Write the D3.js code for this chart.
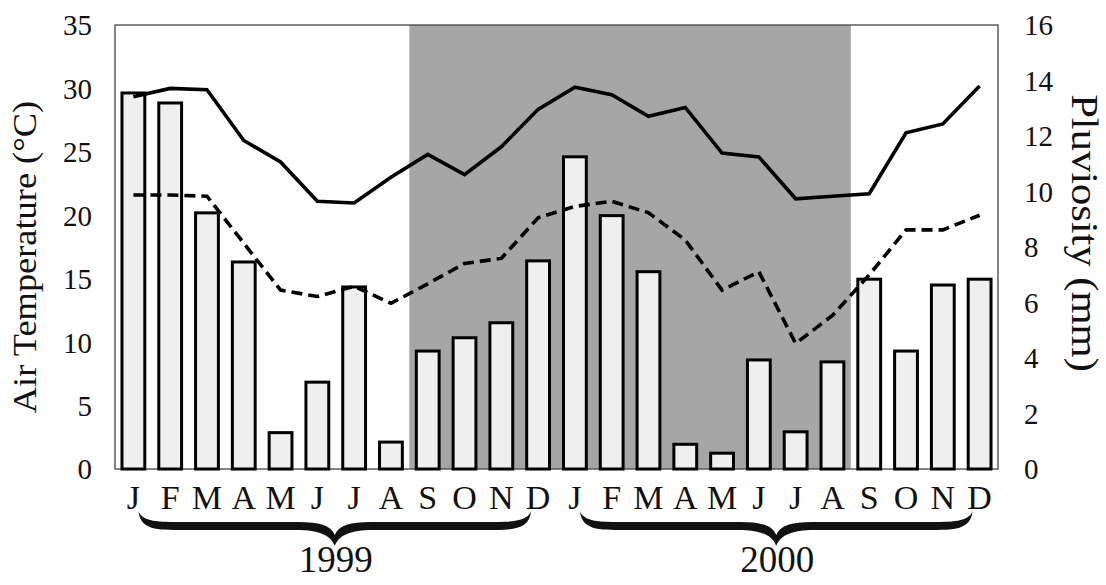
<!DOCTYPE html>
<html>
<head>
<meta charset="utf-8">
<script src="https://cdn.jsdelivr.net/npm/d3@7"></script>
<style>
  html, body { margin: 0; padding: 0; background: #fff; }
  svg { display: block; }
  svg text { font-family: "Liberation Serif", "Times New Roman", Times, "DejaVu Serif", serif !important; fill: #111; }
</style>
</head>
<body>
<div id="chart"></div>
<script>
// ---- data ----
const months = ["J","F","M","A","M","J","J","A","S","O","N","D",
                "J","F","M","A","M","J","J","A","S","O","N","D"];
const years = ["1999", "2000"];
// Pluviosity (mm) – bars, right axis
const rain = [13.55, 13.19, 9.23, 7.46, 1.31, 3.13, 6.56, 0.97, 4.25, 4.73, 5.27, 7.5,
              11.25, 9.13, 7.11, 0.89, 0.57, 3.93, 1.34, 3.86, 6.84, 4.25, 6.63, 6.84];
// Air temperature (°C) – solid line (max), left axis
const tempMax = [29.35, 30.0, 29.9, 25.9, 24.2, 21.1, 20.97, 23.0, 24.8, 23.2, 25.4, 28.35,
                 30.1, 29.5, 27.8, 28.5, 24.9, 24.6, 21.3, 21.5, 21.7, 26.5, 27.2, 30.2];
// Air temperature (°C) – dashed line (min), left axis
const tempMin = [21.6, 21.6, 21.5, 17.8, 14.1, 13.6, 14.4, 13.06, 14.6, 16.2, 16.6, 19.8,
                 20.7, 21.1, 20.2, 18.05, 14.1, 15.55, 9.9, 12.1, 15.3, 18.85, 18.85, 20.0];
const leftTicks = [0, 5, 10, 15, 20, 25, 30, 35];
const rightTicks = [0, 2, 4, 6, 8, 10, 12, 14, 16];
const shadeFrom = 8, shadeTo = 19; // Sep 1999 .. Aug 2000

// ---- layout ----
const W = 1106, H = 585;
const L = 115, R = 998, T = 25, B = 469;
const FONT = '"Liberation Serif", "Times New Roman", Times, serif';

const svg = d3.select("#chart").append("svg").attr("width", W).attr("height", H)
  .style("font-family", FONT);

const idx = d3.range(months.length);
const x = d3.scaleBand().domain(idx).range([L, R]).paddingInner(0.38).paddingOuter(0.19);
const cx = i => x(i) + x.bandwidth() / 2;
const yL = d3.scaleLinear().domain([0, 35]).range([B, T]);
const yR = d3.scaleLinear().domain([0, 16]).range([B, T]);
const step = x.step();

// shading
svg.append("rect")
  .attr("x", x(shadeFrom) - step * 0.19)
  .attr("y", T)
  .attr("width", (x(shadeTo) + x.bandwidth() + step * 0.19) - (x(shadeFrom) - step * 0.19))
  .attr("height", B - T)
  .attr("fill", "#a6a6a6");

// frame
svg.append("rect")
  .attr("x", L).attr("y", T).attr("width", R - L).attr("height", B - T)
  .attr("fill", "none").attr("stroke", "#444").attr("stroke-width", 1.3);

// bars
svg.append("g").selectAll("rect").data(rain).join("rect")
  .attr("x", (d, i) => x(i))
  .attr("y", d => yR(d))
  .attr("width", x.bandwidth())
  .attr("height", d => B - yR(d))
  .attr("fill", "#efefef")
  .attr("stroke", "#000")
  .attr("stroke-width", 3);

// lines
const line = d3.line().x((d, i) => cx(i)).y(d => yL(d));
svg.append("path").datum(tempMax).attr("d", line)
  .attr("fill", "none").attr("stroke", "#000").attr("stroke-width", 3.6)
  .attr("stroke-linejoin", "miter");
svg.append("path").datum(tempMin).attr("d", line)
  .attr("fill", "none").attr("stroke", "#000").attr("stroke-width", 3.6)
  .attr("stroke-dasharray", "11,6");

// left axis
const axL = d3.axisLeft(yL).tickValues(leftTicks).tickSize(0).tickPadding(0);
const gL = svg.append("g").attr("transform", `translate(${92},0)`).call(axL)
  .attr("font-family", FONT);
gL.select(".domain").remove();
gL.selectAll("text").attr("font-size", 29).attr("fill", "#111").attr("dy", "0.34em");

// right axis
const axR = d3.axisRight(yR).tickValues(rightTicks).tickSize(0).tickPadding(0);
const gR = svg.append("g").attr("transform", `translate(${1024},0)`).call(axR)
  .attr("font-family", FONT);
gR.select(".domain").remove();
gR.selectAll("text").attr("font-size", 29).attr("fill", "#111").attr("dy", "0.34em");

// month labels
svg.append("g").selectAll("text").data(months).join("text")
  .attr("x", (d, i) => cx(i))
  .attr("y", 509)
  .attr("text-anchor", "middle")
  .attr("font-size", 34)
  .text(d => d);

// braces + years
function bracePath(x0, x1, yTop, yMid, yTip, h) {
  const c = (x0 + x1) / 2;
  return `M${x0},${yTop}` +
    `C${x0+2},${yMid+h} ${x0+18},${yMid+h} ${x0+45},${yMid+h}` +
    `L${c-38},${yMid+h}` +
    `C${c-16},${yMid+h} ${c-4},${yMid+h+5} ${c},${yTip}` +
    `C${c+4},${yMid+h+5} ${c+16},${yMid+h} ${c+38},${yMid+h}` +
    `L${x1-45},${yMid+h}` +
    `C${x1-18},${yMid+h} ${x1-2},${yMid+h} ${x1},${yTop}` +
    `C${x1-4},${yMid-h} ${x1-20},${yMid-h} ${x1-45},${yMid-h}` +
    `L${c+36},${yMid-h}` +
    `C${c+16},${yMid-h} ${c+4},${yMid-h+3} ${c},${yTip-11}` +
    `C${c-4},${yMid-h+3} ${c-16},${yMid-h} ${c-36},${yMid-h}` +
    `L${x0+45},${yMid-h}` +
    `C${x0+20},${yMid-h} ${x0+4},${yMid-h} ${x0},${yTop}Z`;
}
years.forEach((yr, k) => {
  const a = cx(k * 12), b = cx(k * 12 + 11);
  svg.append("path")
    .attr("d", bracePath(a + 5, b - 7, 511, 526, 546, 4))
    .attr("fill", "#111");
  svg.append("text")
    .attr("x", (a + b) / 2)
    .attr("y", 572)
    .attr("text-anchor", "middle")
    .attr("font-size", 37)
    .text(yr);
});

// axis titles
svg.append("text")
  .attr("transform", `translate(36,257) rotate(-90) scale(1.07,1)`)
  .attr("text-anchor", "middle")
  .attr("font-size", 34)
  .text("Air Temperature (°C)");
svg.append("text")
  .attr("transform", `translate(1072,233) rotate(90) scale(1.15,1)`)
  .attr("text-anchor", "middle")
  .attr("font-size", 37)
  .text("Pluviosity (mm)");
</script>
</body>
</html>
